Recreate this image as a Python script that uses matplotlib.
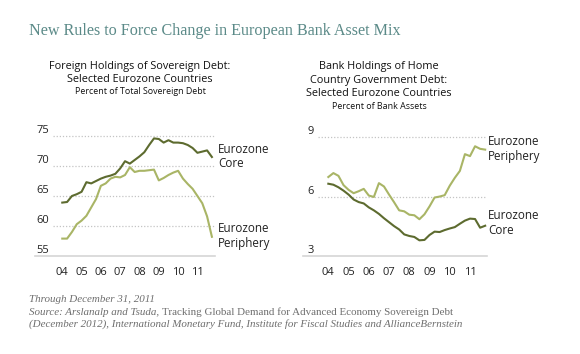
import numpy as np
import matplotlib
matplotlib.use("Agg")
import matplotlib.pyplot as plt

# ---------------- data ----------------
quarters = np.arange(32) / 4.0 + 2004.0   # 2004Q1 .. 2011Q4
year_ticks = [2004, 2005, 2006, 2007, 2008, 2009, 2010, 2011]
year_labels = ["04", "05", "06", "07", "08", "09", "10", "11"]

foreign_core = [63.9, 64.0, 65.0, 65.3, 65.7, 67.3, 67.1, 67.5, 67.9, 68.2, 68.4, 68.7,
                69.6, 70.8, 70.4, 71.0, 71.6, 72.3, 73.5, 74.6, 74.5, 73.9, 74.3, 73.9,
                73.9, 73.8, 73.5, 73.0, 72.2, 72.4, 72.6, 71.5]
foreign_periphery = [57.9, 57.9, 59.0, 60.3, 60.9, 61.7, 63.1, 64.5, 66.7, 67.1, 67.9, 68.2,
                     68.1, 68.5, 69.8, 69.0, 69.2, 69.2, 69.3, 69.4, 67.6, 68.0, 68.5, 68.9,
                     69.2, 67.9, 67.0, 66.2, 65.0, 63.8, 61.6, 58.2]
bank_core = [6.65, 6.60, 6.47, 6.30, 6.10, 5.85, 5.72, 5.65, 5.45, 5.30, 5.12, 4.90,
             4.70, 4.50, 4.33, 4.08, 4.00, 3.95, 3.78, 3.80, 4.05, 4.22, 4.20, 4.30,
             4.38, 4.45, 4.62, 4.78, 4.88, 4.86, 4.42, 4.52]
bank_periphery = [6.99, 7.19, 7.05, 6.58, 6.34, 6.17, 6.27, 6.39, 6.05, 5.98, 6.68, 6.51,
                  6.10, 5.71, 5.30, 5.25, 5.08, 5.05, 4.85, 5.10, 5.50, 5.95, 6.00, 6.07,
                  6.55, 6.95, 7.30, 8.15, 8.05, 8.55, 8.42, 8.38]

left_yticks = [55, 60, 65, 70, 75]
right_yticks = [3, 6, 9]

# ---------------- style ----------------
W, H = 580, 354
CORE = "#5d6b2f"
PERI = "#a9b566"
GRID = "#c4c4c4"
AXLINE = "#d6d6d6"
SANS = ["Open Sans", "DejaVu Sans"]

fig = plt.figure(figsize=(W / 100, H / 100), dpi=100)
fig.patch.set_facecolor("white")


def fx(px):
    return px / W


def fy(py):
    return 1 - py / H


def setup(ax, yticks, xlim, ylim, ext):
    ax.set_xlim(*xlim)
    ax.set_ylim(*ylim)
    for s in ax.spines.values():
        s.set_visible(False)
    for yv in yticks[1:]:
        ax.axhline(yv, color=GRID, lw=0.9, ls=(0, (1, 1.5)), zorder=1)
    ax.plot([ext, 1], [0, 0], transform=ax.transAxes, color=AXLINE, lw=1.2,
            clip_on=False, zorder=1)
    ax.set_yticks(yticks)
    ax.set_yticklabels([str(v) for v in yticks])
    ax.set_xticks(year_ticks)
    ax.set_xticklabels(year_labels)
    ax.tick_params(axis="both", length=0, labelsize=8, labelcolor="#222222")
    ax.tick_params(axis="x", pad=8)
    ax.tick_params(axis="y", pad=3)
    for lab in ax.get_yticklabels():
        lab.set_verticalalignment("bottom")
        lab.set_fontfamily(SANS)
    for lab in ax.get_xticklabels():
        lab.set_fontfamily(SANS)
    ax.set_facecolor("none")


# left panel
ax1 = fig.add_axes([fx(53), fy(256), fx(215) - fx(53), fy(127) - fy(256)])
setup(ax1, left_yticks, (2003.52, 2011.91), (55, 76.5), -0.11)
ax1.plot(quarters, foreign_periphery, color=PERI, lw=1.5, zorder=3)
ax1.plot(quarters, foreign_core, color=CORE, lw=1.5, zorder=4)

# right panel
ax2 = fig.add_axes([fx(318), fy(255.7), fx(487) - fx(318), fy(129.5) - fy(255.7)])
setup(ax2, right_yticks, (2003.49, 2011.84), (3, 9.4), -0.09)
ax2.plot(quarters, bank_periphery, color=PERI, lw=1.5, zorder=3)
ax2.plot(quarters, bank_core, color=CORE, lw=1.5, zorder=4)

# series labels
lab_kw = dict(fontsize=8.4, family=SANS, color="#222222", va="center", ha="left",
              linespacing=1.15)
fig.text(fx(218), fy(156.5), "Eurozone\nCore", **lab_kw)
fig.text(fx(218), fy(236), "Eurozone\nPeriphery", **lab_kw)
fig.text(fx(488), fy(149), "Eurozone\nPeriphery", **lab_kw)
fig.text(fx(488), fy(223), "Eurozone\nCore", **lab_kw)

# title
fig.text(fx(29), fy(31), "New Rules to Force Change in European Bank Asset Mix",
         family=["Liberation Serif"], fontsize=11.6, color="#5b8a88", va="center", ha="left")

# panel subtitles
sub_kw = dict(family=SANS, color="#111111", ha="center", va="center")
fig.text(fx(140), fy(67), "Foreign Holdings of Sovereign Debt:", fontsize=7.8, **sub_kw)
fig.text(fx(140), fy(80), "Selected Eurozone Countries", fontsize=7.8, **sub_kw)
fig.text(fx(140), fy(92), "Percent of Total Sovereign Debt", fontsize=6.4, **sub_kw)
fig.text(fx(379), fy(66), "Bank Holdings of Home", fontsize=7.8, **sub_kw)
fig.text(fx(379), fy(80), "Country Government Debt:", fontsize=7.8, **sub_kw)
fig.text(fx(379), fy(94), "Selected Eurozone Countries", fontsize=7.8, **sub_kw)
fig.text(fx(379), fy(107), "Percent of Bank Assets", fontsize=6.4, **sub_kw)

# footer
foot_kw = dict(family=["Liberation Serif"], fontsize=7.9, color="#6e6e6e")
fig.text(fx(29), fy(299), "Through December 31, 2011", style="italic", va="center", **foot_kw)
t1 = fig.text(fx(29), fy(317), "Source: Arslanalp and Tsuda, ", style="italic",
              va="bottom", **foot_kw)
ax1.annotate("Tracking Global Demand for Advanced Economy Sovereign Debt",
             xy=(1, 0), xycoords=t1, va="bottom", ha="left", style="normal",
             annotation_clip=False, **foot_kw)
fig.text(fx(29), fy(324),
         "(December 2012), International Monetary Fund, Institute for Fiscal Studies and AllianceBernstein",
         style="italic", va="center", **foot_kw)

fig.savefig("out.png", dpi=100, facecolor="white")
